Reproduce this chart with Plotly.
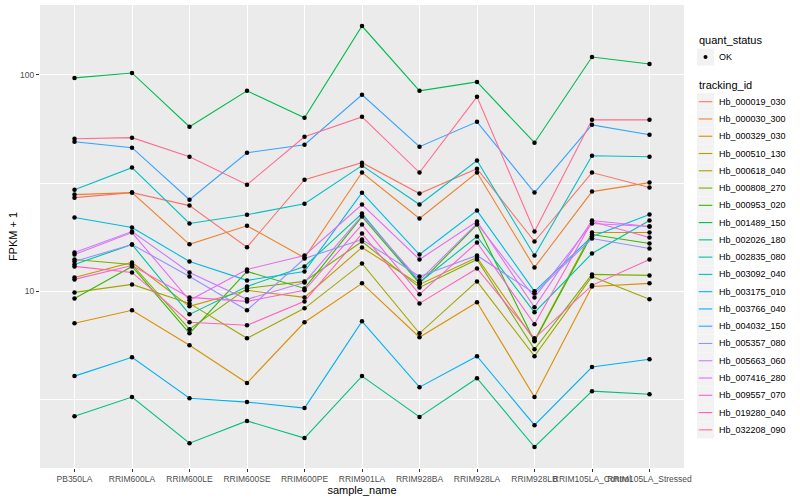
import plotly.graph_objects as go

samples = ["PB350LA", "RRIM600LA", "RRIM600LE", "RRIM600SE", "RRIM600PE", "RRIM901LA",
           "RRIM928BA", "RRIM928LA", "RRIM928LB", "RRIM105LA_Control", "RRIM105LA_Stressed"]

tracking_ids = ["Hb_000019_030", "Hb_000030_300", "Hb_000329_030", "Hb_000510_130", "Hb_000618_040",
                "Hb_000808_270", "Hb_000953_020", "Hb_001489_150", "Hb_002026_180", "Hb_002835_080",
                "Hb_003092_040", "Hb_003175_010", "Hb_003766_040", "Hb_004032_150", "Hb_005357_080",
                "Hb_005663_060", "Hb_007416_280", "Hb_009557_070", "Hb_019280_040", "Hb_032208_090"]

colors = ["#F8766D", "#EA8331", "#D89000", "#C09B00", "#A3A500", "#7CAE00", "#39B600", "#00BB4E",
          "#00BF7D", "#00C1A3", "#00BFC4", "#00BAE0", "#00B0F6", "#35A2FF", "#9590FF", "#C77CFF",
          "#E76BF3", "#FA62DB", "#FF62BC", "#FF6C91"]

# FPKM + 1 per tracking id, in sample order
Hb_000019_030 = [27.1, 28.6, 24.9, 16.0, 32.8, 39.3, 28.3, 36.9, 17.0, 35.4, 30.2]
Hb_000030_300 = [28.0, 28.6, 16.5, 20.1, 14.3, 35.4, 21.7, 35.4, 12.9, 28.9, 31.8]
Hb_000329_030 = [7.12, 8.18, 5.64, 3.77, 7.20, 10.89, 6.14, 8.90, 3.25, 10.54, 10.89]
Hb_000510_130 = [11.60, 13.60, 8.53, 10.11, 9.38, 15.96, 10.77, 14.34, 5.94, 18.70, 18.70]
Hb_000618_040 = [9.89, 10.77, 8.80, 6.07, 8.35, 13.46, 6.40, 11.12, 5.02, 11.72, 9.19]
Hb_000808_270 = [14.04, 13.32, 6.68, 10.32, 11.12, 17.00, 10.43, 14.04, 5.40, 11.98, 11.85]
Hb_000953_020 = [9.28, 13.04, 6.40, 12.36, 10.32, 22.16, 10.89, 20.36, 5.88, 18.31, 16.65]
Hb_001489_150 = [96.9, 102.1, 57.6, 84.4, 63.4, 168.2, 84.4, 92.8, 48.6, 121.0, 112.4]
Hb_002026_180 = [2.65, 3.25, 1.99, 2.52, 2.10, 4.06, 2.63, 3.97, 1.91, 3.46, 3.35]
Hb_002835_080 = [13.32, 16.47, 7.83, 10.54, 13.04, 22.88, 11.00, 17.92, 8.00, 14.96, 21.24]
Hb_003092_040 = [29.5, 37.3, 20.6, 22.6, 25.4, 38.1, 25.2, 40.2, 14.65, 42.3, 41.9]
Hb_003175_010 = [21.93, 19.72, 13.75, 11.24, 12.36, 28.58, 14.80, 23.62, 10.00, 17.92, 22.64]
Hb_003766_040 = [4.06, 4.96, 3.21, 3.08, 2.89, 7.27, 3.61, 5.02, 2.41, 4.47, 4.86]
Hb_004032_150 = [49.1, 46.1, 26.5, 43.7, 47.6, 80.9, 46.6, 60.7, 28.6, 58.8, 52.9]
Hb_005357_080 = [13.75, 16.47, 11.72, 8.18, 14.19, 17.36, 11.72, 14.65, 9.79, 17.55, 15.79]
Hb_005663_060 = [15.12, 18.90, 12.23, 9.19, 11.00, 22.40, 11.24, 20.58, 9.38, 20.58, 19.93]
Hb_007416_280 = [14.80, 18.70, 9.09, 12.63, 14.65, 25.17, 14.04, 21.02, 8.44, 21.24, 19.93]
Hb_009557_070 = [11.36, 13.17, 9.38, 8.99, 10.11, 20.36, 9.69, 16.82, 7.05, 21.02, 17.74]
Hb_019280_040 = [13.04, 12.23, 7.20, 6.97, 8.99, 18.50, 8.80, 12.76, 6.07, 10.66, 14.04]
Hb_032208_090 = [50.7, 51.3, 41.9, 31.1, 51.8, 64.0, 35.4, 79.2, 18.9, 62.0, 62.0]

series = [Hb_000019_030, Hb_000030_300, Hb_000329_030, Hb_000510_130, Hb_000618_040,
          Hb_000808_270, Hb_000953_020, Hb_001489_150, Hb_002026_180, Hb_002835_080,
          Hb_003092_040, Hb_003175_010, Hb_003766_040, Hb_004032_150, Hb_005357_080,
          Hb_005663_060, Hb_007416_280, Hb_009557_070, Hb_019280_040, Hb_032208_090]

y_ticks = [10, 100]
y_minor = [3.1623, 31.623]
status_levels = ["OK"]

FONT = "Liberation Sans"
W, H = 800, 500
ML, MR, MT, MB = 40, 116, 5, 32
PW, PH = W - ML - MR, H - MT - MB


def px(xp):
    return (xp - ML) / PW


def py(yp):
    return (H - MB - yp) / PH


fig = go.Figure()

for name, vals, col in zip(tracking_ids, series, colors):
    fig.add_trace(go.Scatter(x=samples, y=vals, mode="lines", name=name,
                             line=dict(color=col, width=1.1), showlegend=False))

all_x = [s for vals in series for s in samples]
all_y = [v for vals in series for v in vals]
fig.add_trace(go.Scatter(x=all_x, y=all_y, mode="markers", name=status_levels[0],
                         marker=dict(color="black", size=4.5, symbol="circle"),
                         showlegend=False))

# ---- legends drawn in ggplot style (grey key boxes) ----
shapes = []
annotations = []
KX0, KX1 = 697, 714
TX = 717

annotations.append(dict(text="quant_status", x=px(KX0), y=py(40), xref="paper", yref="paper",
                        xanchor="left", yanchor="middle", showarrow=False,
                        font=dict(size=11, color="black")))
for j, lvl in enumerate(status_levels):
    cy = 57 + j * 17.3
    shapes.append(dict(type="rect", xref="paper", yref="paper", x0=px(KX0), x1=px(KX1),
                       y0=py(cy - 8.5), y1=py(cy + 8.5), fillcolor="#F2F2F2", line=dict(width=0),
                       layer="above"))
    shapes.append(dict(type="circle", xref="paper", yref="paper", x0=px(705.5 - 2), x1=px(705.5 + 2),
                       y0=py(cy - 2), y1=py(cy + 2), fillcolor="black", line=dict(width=0),
                       layer="above"))
    annotations.append(dict(text=lvl, x=px(TX), y=py(cy), xref="paper", yref="paper",
                            xanchor="left", yanchor="middle", showarrow=False,
                            font=dict(size=9, color="black")))

annotations.append(dict(text="tracking_id", x=px(KX0), y=py(85), xref="paper", yref="paper",
                        xanchor="left", yanchor="middle", showarrow=False,
                        font=dict(size=11, color="black")))
for i, (name, col) in enumerate(zip(tracking_ids, colors)):
    cy = 101.7 + i * 17.27
    shapes.append(dict(type="rect", xref="paper", yref="paper", x0=px(KX0), x1=px(KX1),
                       y0=py(cy - 8.5), y1=py(cy + 8.5), fillcolor="#F2F2F2", line=dict(width=0),
                       layer="above"))
    shapes.append(dict(type="line", xref="paper", yref="paper", x0=px(KX0 + 1.7), x1=px(KX1 - 1.7),
                       y0=py(cy), y1=py(cy), line=dict(color=col, width=1.1), layer="above"))
    annotations.append(dict(text=name, x=px(TX), y=py(cy), xref="paper", yref="paper",
                            xanchor="left", yanchor="middle", showarrow=False,
                            font=dict(size=9, color="black")))

fig.update_layout(
    width=W, height=H,
    margin=dict(l=ML, r=MR, t=MT, b=MB),
    paper_bgcolor="white", plot_bgcolor="#EBEBEB",
    font=dict(family=FONT, size=9, color="#4D4D4D"),
    showlegend=False,
    shapes=shapes, annotations=annotations,
    xaxis=dict(type="category", categoryorder="array", categoryarray=samples,
               range=[-0.6, 10.6], showgrid=True, gridcolor="white", gridwidth=1.07,
               ticks="outside", ticklen=3, tickcolor="#333333", tickwidth=1,
               tickangle=0, tickfont=dict(size=8.5, color="#4D4D4D"),
               zeroline=False, showline=False,
               title=dict(text="sample_name", font=dict(size=11, color="black"), standoff=2)),
    yaxis=dict(type="log", range=[0.184, 2.323], tickvals=y_ticks, ticktext=[str(t) for t in y_ticks],
               showgrid=True, gridcolor="white", gridwidth=1.07,
               minor=dict(tickvals=y_minor, showgrid=True, gridcolor="white", gridwidth=0.55, ticks=""),
               ticks="outside", ticklen=3, tickcolor="#333333", tickwidth=1,
               tickfont=dict(size=8.5, color="#4D4D4D"),
               zeroline=False, showline=False,
               title=dict(text="FPKM + 1", font=dict(size=11, color="black"), standoff=0)),
)

fig.write_html("out.html", config={"displayModeBar": False},
               post_script="document.body.style.margin='0';document.body.style.overflow='hidden';")
